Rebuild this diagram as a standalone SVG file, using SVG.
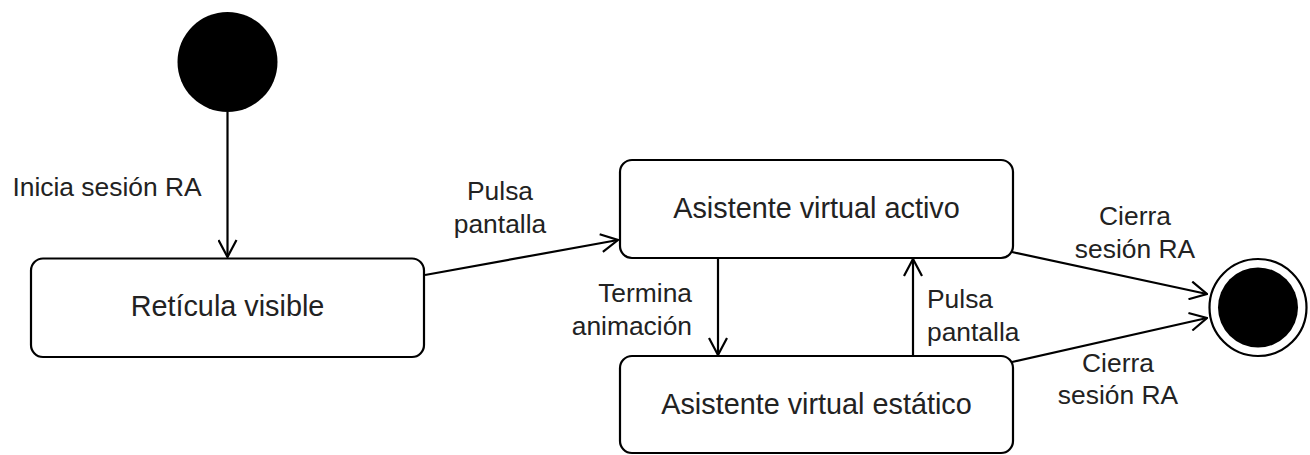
<svg xmlns="http://www.w3.org/2000/svg" width="1310" height="455" viewBox="0 0 1310 455">
  <style>
    .node { fill: #ffffff; stroke: #000000; stroke-width: 2.2; }
    .ntext { font-family: "Liberation Sans", Arial, sans-serif; font-size: 28.8px; fill: #222222; text-anchor: middle; }
    .ltext { font-family: "Liberation Sans", Arial, sans-serif; font-size: 26.4px; fill: #222222; }
    .edge { fill: none; stroke: #000000; stroke-width: 2.2; }
  </style>
  <defs>
    <marker id="open" viewBox="0 0 20 20" refX="19" refY="10" markerWidth="20" markerHeight="20" markerUnits="userSpaceOnUse" orient="auto">
      <path d="M2,1 L19,10 L2,19" fill="none" stroke="#000000" stroke-width="2.2"/>
    </marker>
  </defs>
  <rect width="1310" height="455" fill="#ffffff"/>

  <g id="edges">
    <line class="edge" x1="227.5" y1="112" x2="227.5" y2="257" marker-end="url(#open)"/>
    <line class="edge" x1="425" y1="275" x2="618" y2="240" marker-end="url(#open)"/>
    <line class="edge" x1="718" y1="258" x2="718" y2="355" marker-end="url(#open)"/>
    <line class="edge" x1="913" y1="356" x2="913" y2="259" marker-end="url(#open)"/>
    <line class="edge" x1="1012" y1="252" x2="1207" y2="294" marker-end="url(#open)"/>
    <line class="edge" x1="1012" y1="362" x2="1207" y2="318" marker-end="url(#open)"/>
  </g>

  <g id="edge-labels">
    <text class="ltext" x="107" y="196" text-anchor="middle">Inicia sesión RA</text>
    <text class="ltext" x="500" y="200" text-anchor="middle">Pulsa</text>
    <text class="ltext" x="500" y="233" text-anchor="middle">pantalla</text>
    <text class="ltext" x="692" y="302" text-anchor="end">Termina</text>
    <text class="ltext" x="692" y="335" text-anchor="end">animación</text>
    <text class="ltext" x="927" y="308" text-anchor="start">Pulsa</text>
    <text class="ltext" x="927" y="341" text-anchor="start">pantalla</text>
    <text class="ltext" x="1135" y="225" text-anchor="middle">Cierra</text>
    <text class="ltext" x="1135" y="258" text-anchor="middle">sesión RA</text>
    <text class="ltext" x="1118" y="372" text-anchor="middle">Cierra</text>
    <text class="ltext" x="1118" y="404" text-anchor="middle">sesión RA</text>
  </g>

  <g id="start">
    <circle cx="227.5" cy="62" r="50" fill="#000000"/>
  </g>

  <g id="reticula">
    <rect class="node" x="31" y="258.5" width="393" height="98.5" rx="12" ry="12"/>
    <text class="ntext" x="227.5" y="316">Retícula visible</text>
  </g>

  <g id="activo">
    <rect class="node" x="620" y="160" width="393" height="98" rx="12" ry="12"/>
    <text class="ntext" x="816.5" y="218">Asistente virtual activo</text>
  </g>

  <g id="estatico">
    <rect class="node" x="620" y="356" width="393" height="97" rx="12" ry="12"/>
    <text class="ntext" x="816.5" y="414">Asistente virtual estático</text>
  </g>

  <g id="end">
    <circle cx="1258" cy="307.5" r="48.5" fill="#ffffff" stroke="#000000" stroke-width="2.2"/>
    <circle cx="1258" cy="307.5" r="40" fill="#000000"/>
  </g>
</svg>
